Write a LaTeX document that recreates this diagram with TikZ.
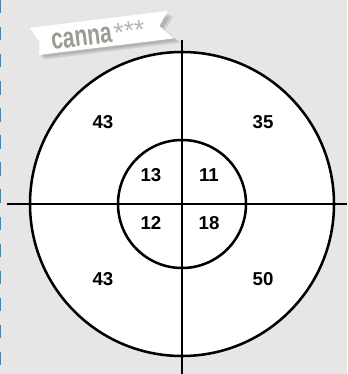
\documentclass[tikz,border=0pt]{standalone}
\usepackage{fontspec}
\setmainfont{Liberation Sans}
\usepackage{xcolor}
\usepackage{tikz}
\usetikzlibrary{positioning, calc}
\definecolor{pagegray}{HTML}{E6E6E6}
\definecolor{edgeblue}{HTML}{4F86A8}
\definecolor{labelgray}{HTML}{9A9C94}
\definecolor{stargray}{HTML}{B4B6AF}

\begin{document}
\begin{tikzpicture}[x=0.75pt, y=-0.75pt,
    ring/.style={circle, draw=black, fill=white, line width=1.9pt, inner sep=0pt},
    axis/.style={draw=black, line width=1.9pt},
    score/.style={font=\fontsize{14}{14}\selectfont\bfseries, text=black, inner sep=0pt}]
  \fill[pagegray] (0,0) rectangle (347,374);
  \useasboundingbox (0,0) rectangle (347,374);
  \draw[edgeblue, line width=1.1pt, dash pattern=on 10pt off 10.3pt] (0.6,0) -- (0.6,374);

  % target
  \coordinate (c) at (182,204);
  \node[ring, minimum size=228pt] (outer) at (c) {};
  \node[ring, minimum size=96pt] (inner) at (c) {};
  \coordinate (west) at (7,204);
  \coordinate (east) at (347,204);
  \coordinate (north) at (182,40);
  \coordinate (south) at (182,374);
  \draw[axis] (west) -- (east);
  \draw[axis] (north) -- (south);

  % scores
  \node[score] (outerNW) at (103,122) {43};
  \node[score] (outerNE) at (263,122) {35};
  \node[score] (outerSW) at (103,279) {43};
  \node[score] (outerSE) at (263,279) {50};
  \node[score] (innerNW) at (151,175) {13};
  \node[score] (innerNE) at (209,175) {11};
  \node[score] (innerSW) at (151,223) {12};
  \node[score] (innerSE) at (209,223) {18};

  % ribbon
  \begin{scope}[shift={(103,34)}, rotate=7]
    \fill[black, opacity=0.10] (-68,-9) -- (72,-9) -- (62,4) -- (76,18) -- (-62,18) -- (-60,5) -- cycle;
    \fill[black, opacity=0.12] (-69,-11) -- (70,-11) -- (60,2) -- (73,16) -- (-64,16) -- (-62,3) -- cycle;
    \fill[white] (-72,-15) -- (67,-15) -- (57,-1) -- (70,13) -- (-66,13) -- (-64,0) -- cycle;
  \end{scope}
  \node[rotate=7, inner sep=0pt] (brand) at (98,35)
    {\scalebox{0.72}[1]{\fontsize{22}{22}\selectfont\bfseries\color{labelgray}canna}\,{\fontsize{20}{20}\selectfont\color{stargray}***}};
\end{tikzpicture}
\end{document}
